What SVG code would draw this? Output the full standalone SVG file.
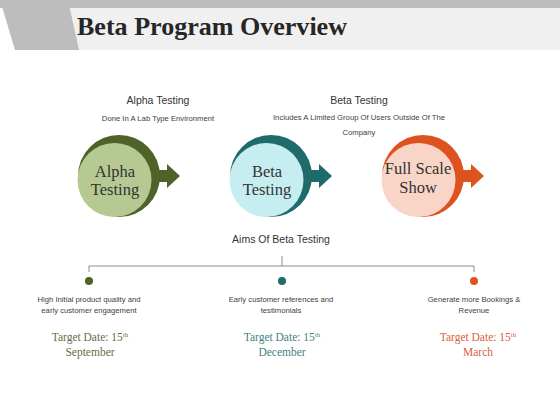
<svg xmlns="http://www.w3.org/2000/svg" width="560" height="420" viewBox="0 0 560 420">
<style>
.title{font-family:"Liberation Serif",serif;font-weight:bold;font-size:26px;fill:#262626}
.hd{font-family:"Liberation Sans",Arial,sans-serif;font-size:10.5px;fill:#333}
.sm{font-family:"Liberation Sans",Arial,sans-serif;font-size:7.7px;fill:#404040}
.ct{font-family:"Liberation Serif",serif;font-size:16.5px;fill:#333;text-anchor:middle}
.td{font-family:"Liberation Serif",serif;font-size:11.5px;text-anchor:middle}
.conn{stroke:#8c8c8c;stroke-width:1;fill:none}
</style>
<rect x="0" y="0" width="560" height="420" fill="#fff"/>
<g id="header">
<rect x="0" y="0" width="560" height="8" fill="#bdbdbd"/>
<rect x="68" y="8" width="492" height="42" fill="#f0f0f0"/>
<polygon points="0,0 68,0 79,50 15,50" fill="#bdbdbd"/>
<text class="title" x="77" y="35" textLength="270" lengthAdjust="spacingAndGlyphs">Beta Program Overview</text>
</g>
<g id="alpha-desc">
<text class="hd" x="158" y="104" text-anchor="middle">Alpha Testing</text>
<text class="sm" x="158" y="121" text-anchor="middle">Done In A Lab Type Environment</text>
</g>
<g id="beta-desc">
<text class="hd" x="359" y="104" text-anchor="middle">Beta Testing</text>
<text class="sm" x="359" y="120" text-anchor="middle">Includes A Limited Group Of Users Outside Of The</text>
<text class="sm" x="359" y="135" text-anchor="middle">Company</text>
</g>
<g id="alpha">
<circle cx="119" cy="176" r="41" fill="#4f6228"/>
<polygon points="155,170 167,170 167,164 180,176 167,188 167,182 155,182" fill="#4f6228"/>
<circle cx="114.5" cy="180" r="37" fill="#b6c992"/>
<text class="ct" x="115" y="177">Alpha</text>
<text class="ct" x="115" y="195">Testing</text>
</g>
<g id="beta">
<circle cx="271" cy="176" r="41" fill="#1f6b6b"/>
<polygon points="307,170 319,170 319,164 332,176 319,188 319,182 307,182" fill="#1f6b6b"/>
<circle cx="266.5" cy="180" r="37" fill="#c6eef0"/>
<text class="ct" x="267" y="177">Beta</text>
<text class="ct" x="267" y="195">Testing</text>
</g>
<g id="fullscale">
<circle cx="423" cy="176" r="41" fill="#de521f"/>
<polygon points="459,170 471,170 471,164 484,176 471,188 471,182 459,182" fill="#de521f"/>
<circle cx="418.5" cy="180" r="37" fill="#f9d5c8"/>
<text class="ct" x="418" y="174">Full Scale</text>
<text class="ct" x="418" y="193">Show</text>
</g>
<g id="aims">
<text class="hd" x="281" y="243" text-anchor="middle">Aims Of Beta Testing</text>
</g>
<g id="connectors">
<path class="conn" d="M282,256 V266 M89,272 V266 H474 V272"/>
</g>
<g id="aim1">
<circle cx="89" cy="281" r="4" fill="#4f6228"/>
<text class="sm" x="89" y="302" text-anchor="middle">High Initial product quality and</text>
<text class="sm" x="89" y="313" text-anchor="middle">early customer engagement</text>
<text class="td" x="90" y="341" fill="#5f6f45">Target Date: 15<tspan font-size="7" dy="-4">th</tspan></text>
<text class="td" x="90" y="356" fill="#5f6f45">September</text>
</g>
<g id="aim2">
<circle cx="282" cy="281" r="4" fill="#1f6b6b"/>
<text class="sm" x="281" y="302" text-anchor="middle">Early customer references and</text>
<text class="sm" x="281" y="313" text-anchor="middle">testimonials</text>
<text class="td" x="282" y="341" fill="#3f7f80">Target Date: 15<tspan font-size="7" dy="-4">th</tspan></text>
<text class="td" x="282" y="356" fill="#3f7f80">December</text>
</g>
<g id="aim3">
<circle cx="474" cy="281" r="4" fill="#de521f"/>
<text class="sm" x="474" y="302" text-anchor="middle">Generate more Bookings &amp;</text>
<text class="sm" x="474" y="313" text-anchor="middle">Revenue</text>
<text class="td" x="478" y="341" fill="#d9603f">Target Date: 15<tspan font-size="7" dy="-4">th</tspan></text>
<text class="td" x="478" y="356" fill="#d9603f">March</text>
</g>
</svg>
